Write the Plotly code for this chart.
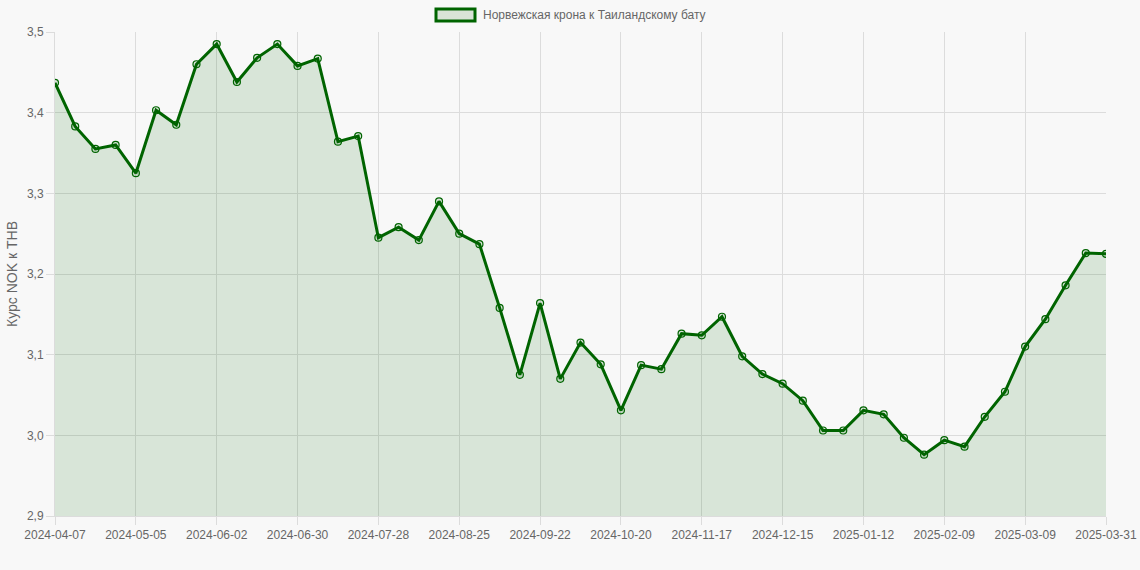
import datetime as dt
import plotly.graph_objects as go

# Dates: weekly Sundays from 2024-04-07 to 2025-03-30, plus 2025-03-31
start = dt.date(2024, 4, 7)
dates = [(start + dt.timedelta(weeks=i)).isoformat() for i in range(52)] + ["2025-03-31"]

rates = [
    3.437, 3.383, 3.355, 3.360, 3.325, 3.403, 3.385, 3.460, 3.485, 3.438,
    3.468, 3.485, 3.458, 3.467, 3.364, 3.371, 3.245, 3.258, 3.242, 3.290,
    3.250, 3.237, 3.158, 3.075, 3.164, 3.070, 3.115, 3.088, 3.031, 3.087,
    3.082, 3.126, 3.124, 3.147, 3.098, 3.076, 3.064, 3.043, 3.006, 3.006,
    3.031, 3.026, 2.997, 2.976, 2.994, 2.986, 3.023, 3.054, 3.110, 3.144,
    3.186, 3.226, 3.225,
]

tick_labels = dates[::4]
series_name = "Норвежская крона к Таиландскому бату"
y_title = "Курс NOK к THB"

green = "#006400"
fill_col = "rgba(0,100,0,0.13)"
text_col = "#666666"
grid_col = "#dcdcdc"
bg = "#f8f8f8"

fig = go.Figure()
fig.add_trace(go.Scatter(
    x=dates, y=rates, mode="lines+markers", name=series_name,
    line=dict(color=green, width=3),
    marker=dict(symbol="circle", size=7, color="rgba(0,100,0,0.12)",
                line=dict(color=green, width=1.2)),
    fill="tozeroy", fillcolor=fill_col, showlegend=False,
))

# custom legend (Chart.js style box)
fig.add_shape(type="rect", xref="paper", yref="paper",
              x0=(436 - 55) / 1051, x1=(475 - 55) / 1051,
              y0=(516 - 21) / 484, y1=(516 - 9) / 484,
              line=dict(color=green, width=3), fillcolor="#d9e3d7")
fig.add_annotation(xref="paper", yref="paper", x=(481 - 55) / 1051, y=(516 - 15) / 484,
                   text=series_name, showarrow=False, xanchor="left", yanchor="middle",
                   font=dict(size=12, color=text_col))

fig.update_layout(
    width=1140, height=570,
    margin=dict(l=55, r=34, t=32, b=54, autoexpand=False),
    paper_bgcolor=bg, plot_bgcolor=bg,
    font=dict(family="Liberation Sans, Arial, sans-serif", size=12, color=text_col),
    separators=",.",
    showlegend=False,
)
fig.update_xaxes(
    type="category", range=[0, len(dates) - 1], automargin=False,
    tickmode="array", tickvals=tick_labels, ticktext=tick_labels,
    showgrid=True, gridcolor=grid_col, gridwidth=1,
    ticks="outside", ticklen=8, tickcolor=grid_col, tickangle=0,
    showline=True, linecolor=grid_col, zeroline=False,
    tickfont=dict(size=12, color=text_col),
)
fig.update_yaxes(
    range=[2.9, 3.5], dtick=0.1, tickformat=".1f", automargin=False,
    showgrid=True, gridcolor=grid_col, gridwidth=1,
    ticks="outside", ticklen=8, tickcolor=grid_col,
    showline=True, linecolor=grid_col, zeroline=False,
    title=dict(text=y_title, font=dict(size=14, color=text_col), standoff=6),
    tickfont=dict(size=12, color=text_col),
)

fig.write_html(
    "out.html",
    config={"displayModeBar": False},
    post_script="document.body.style.margin='0px';document.body.style.background='#f8f8f8';"
                "document.body.style.overflow='hidden';",
)
